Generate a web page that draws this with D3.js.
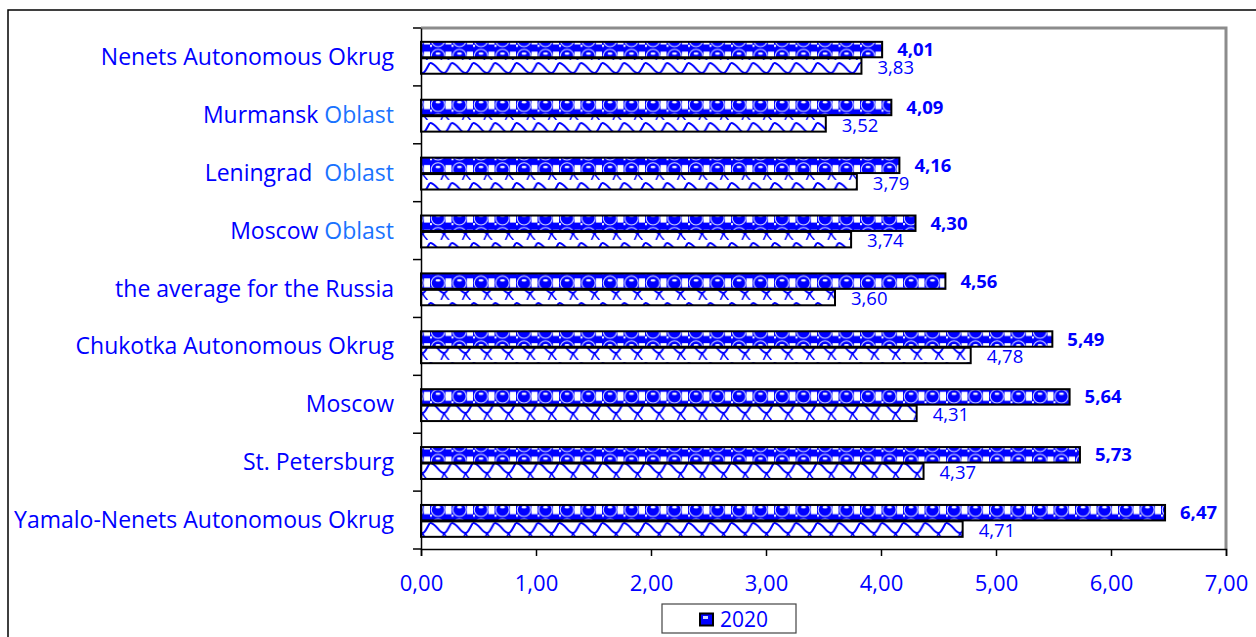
<!DOCTYPE html>
<html>
<head>
<meta charset="utf-8">
<script src="https://cdn.jsdelivr.net/npm/d3@7"></script>
<style>
  html, body { margin: 0; padding: 0; background: #fff; }
  svg { display: block; }
  text { font-family: "Open Sans", Carlito, Calibri, Lato, sans-serif; }
</style>
</head>
<body>
<svg id="chart" width="1256" height="637"></svg>
<script>
// ---- data ----
const categories = [
  "Nenets Autonomous Okrug",
  "Murmansk Oblast",
  "Leningrad  Oblast",
  "Moscow Oblast",
  "the average for the Russia",
  "Chukotka Autonomous Okrug",
  "Moscow",
  "St. Petersburg",
  "Yamalo-Nenets Autonomous Okrug"
];
const values2020 = [4.01, 4.09, 4.16, 4.30, 4.56, 5.49, 5.64, 5.73, 6.47];
const valuesPrev = [3.83, 3.52, 3.79, 3.74, 3.60, 4.78, 4.31, 4.37, 4.71];
const seriesNames = ["2020", "previous"];
const xTicks = [0, 1, 2, 3, 4, 5, 6, 7];
const legendLabels = ["2020"];

// ---- layout ----
const svg = d3.select("#chart");
const plot = { left: 421, right: 1226, top: 28, bottom: 549 };
const BLUE = "#0000ff";
const LIGHTBLUE = "#1a73ff";
const FONT = "'Open Sans', Carlito, Calibri, Lato, sans-serif";

const fmt = v => d3.format(".2f")(v).replace(".", ",");

const x = d3.scaleLinear().domain([0, 7]).range([plot.left, plot.right]);
const y0 = d3.scaleBand().domain(categories).range([plot.top, plot.bottom]);
const bw = y0.bandwidth();
const y1 = d3.scaleBand().domain(seriesNames).range([bw * 0.222, bw * 0.79]);

// ---- patterns ----
const defs = svg.append("defs");
const pDots = defs.append("pattern").attr("id", "pDots")
  .attr("patternUnits", "userSpaceOnUse").attr("width", 21.5).attr("height", 16.2);
pDots.append("rect").attr("width", 21.5).attr("height", 16.2).attr("fill", BLUE);
pDots.append("rect").attr("x", 15.5).attr("y", 3).attr("width", 6).attr("height", 9).attr("fill", "#fff");
pDots.append("rect").attr("x", 0).attr("y", 12.5).attr("width", 2).attr("height", 2).attr("fill", "#fff");
pDots.append("circle").attr("cx", 8).attr("cy", 7.5).attr("r", 6.8).attr("fill", BLUE)
  .attr("stroke", "#dfe4ff").attr("stroke-width", 1);
pDots.append("ellipse").attr("cx", 8).attr("cy", 5).attr("rx", 2.5).attr("ry", 1.2).attr("fill", "#fff");

const pWave = defs.append("pattern").attr("id", "pWave")
  .attr("patternUnits", "userSpaceOnUse").attr("width", 21.5).attr("height", 20);
pWave.append("rect").attr("width", 21.5).attr("height", 20).attr("fill", "#fff");
pWave.append("path").attr("d", "M0,3 C6,3 9,13 14,13 C17,13 19,6 21.5,3")
  .attr("fill", "none").attr("stroke", BLUE).attr("stroke-width", 2);
pWave.append("path").attr("d", "M14,13 C13,16 12,18 11,20 M14,13 C15,16 17,18 19,20")
  .attr("fill", "none").attr("stroke", BLUE).attr("stroke-width", 1.5);

// ---- outer frame ----
svg.append("rect").attr("x", 8).attr("y", 10).attr("width", 1300).attr("height", 700)
  .attr("fill", "#fff").attr("stroke", "#000").attr("stroke-width", 1.5);

// plot frame (gray top/right)
svg.append("path")
  .attr("d", `M${plot.left},${plot.top} H${plot.right} V${plot.bottom}`)
  .attr("fill", "none").attr("stroke", "#8c8c8c").attr("stroke-width", 3);

// ---- bars ----
const rows = categories.map((c, i) => ({ c, v: [values2020[i], valuesPrev[i]] }));
const g = svg.append("g");
rows.forEach(r => {
  const gy = y0(r.c);
  seriesNames.forEach((s, k) => {
    const v = r.v[k];
    g.append("rect")
      .attr("x", x(0))
      .attr("y", gy + y1(s) + 1)
      .attr("width", x(v) - x(0))
      .attr("height", y1.bandwidth() - 1)
      .attr("fill", k === 0 ? "url(#pDots)" : "url(#pWave)")
      .attr("stroke", "#000").attr("stroke-width", 2);
    g.append("text")
      .attr("x", x(v) + (k === 0 ? 15 : 16))
      .attr("y", gy + y1(s) + (k === 0 ? 15.3 : 16.5))
      .attr("fill", BLUE)
      .attr("font-size", k === 0 ? 18.5 : 18.5)
      .attr("font-weight", k === 0 ? "bold" : "normal")
      .text(fmt(v));
  });
});

// ---- axes ----
const xAxis = d3.axisBottom(x).tickValues(xTicks).tickFormat(fmt).tickSizeOuter(0).tickSize(7).tickPadding(19);
const gx = svg.append("g").attr("transform", `translate(0,${plot.bottom})`).call(xAxis);
gx.select(".domain").attr("stroke", "#000").attr("stroke-width", 1.5);
gx.selectAll(".tick line").attr("stroke", "#000").attr("stroke-width", 1.5);
gx.selectAll(".tick text").attr("fill", BLUE).attr("font-size", 22).attr("font-family", FONT);

const yAxis = d3.axisLeft(y0).tickSize(0).tickFormat("");
const gyAxis = svg.append("g").attr("transform", `translate(${plot.left},0)`).call(yAxis);
gyAxis.select(".domain").attr("stroke", "#000").attr("stroke-width", 1.5);
const bounds = categories.map(c => y0(c)).concat([plot.bottom]);
gyAxis.selectAll("line.bt").data(bounds).join("line").attr("class", "bt")
  .attr("x1", -8).attr("x2", 0).attr("y1", d => d).attr("y2", d => d)
  .attr("stroke", "#000").attr("stroke-width", 1.5);

// category labels
const lab = svg.append("g");
categories.forEach(c => {
  const t = lab.append("text")
    .attr("x", 394)
    .attr("y", y0(c) + bw / 2 + 8)
    .attr("text-anchor", "end")
    .attr("font-size", 23)
    .attr("fill", BLUE)
    .style("white-space", "pre");
  const m = c.match(/^(.*?)(\s+)(Oblast)$/);
  if (m) {
    t.append("tspan").text(m[1] + m[2]);
    t.append("tspan").attr("fill", LIGHTBLUE).text(m[3]);
  } else {
    t.text(c);
  }
});

// ---- legend ----
const lg = svg.append("g").attr("transform", "translate(662,604)");
lg.append("rect").attr("width", 134).attr("height", 29).attr("fill", "#fff")
  .attr("stroke", "#444").attr("stroke-width", 1.2);
legendLabels.forEach((l, i) => {
  lg.append("rect").attr("x", 38).attr("y", 9.5).attr("width", 13).attr("height", 12)
    .attr("fill", BLUE).attr("stroke", "#000").attr("stroke-width", 2);
  lg.append("rect").attr("x", 41).attr("y", 12).attr("width", 5).attr("height", 3).attr("fill", "#cdd6ff");
  lg.append("text").attr("x", 58).attr("y", 22.5).attr("font-size", 21).attr("fill", BLUE).text(l);
});
</script>
</body>
</html>
